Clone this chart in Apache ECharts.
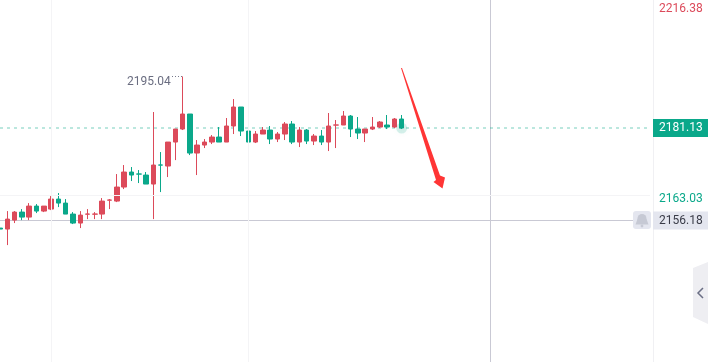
<!DOCTYPE html>
<html><head><meta charset="utf-8">
<style>html,body{margin:0;padding:0;background:#fff}#c{width:708px;height:362px}</style>
<script src="https://cdn.jsdelivr.net/npm/echarts@6/dist/echarts.min.js"></script>
</head><body><div id="c"></div>
<script>
const slots = 90;
const categories = Array.from({length: slots}, (_, i) => String(i));
const opens = [2154.15,2153.88,2156.30,2158.46,2157.11,2160.08,2158.73,2159.27,2161.97,2160.89,2157.92,2155.50,2157.90,2157.90,2157.92,2161.68,2161.43,2165.21,2169.26,2168.74,2168.45,2166.02,2171.17,2170.88,2177.35,2180.86,2184.91,2174.38,2176.54,2177.35,2178.70,2177.35,2181.67,2186.80,2180.32,2177.35,2179.51,2180.59,2178.16,2179.51,2182.21,2177.35,2180.59,2177.62,2178.97,2177.35,2181.92,2181.94,2184.37,2180.86,2179.78,2180.86,2181.40,2181.94,2181.40,2183.56];
const closes = [2153.88,2156.57,2158.46,2157.11,2160.08,2158.73,2160.08,2161.97,2160.89,2157.92,2155.50,2157.65,2157.94,2157.94,2161.43,2161.72,2165.21,2169.26,2168.45,2168.70,2166.02,2171.15,2171.13,2177.35,2180.86,2184.91,2174.38,2176.54,2177.35,2178.70,2177.35,2181.67,2186.80,2180.32,2177.35,2179.51,2180.59,2178.16,2179.51,2182.21,2177.35,2180.59,2177.62,2178.97,2177.35,2181.67,2181.96,2184.37,2180.86,2179.78,2180.86,2181.40,2182.75,2181.40,2183.56,2181.13];
const lows = [2151.99,2149.56,2155.50,2156.30,2156.30,2158.19,2158.46,2159.00,2159.81,2157.92,2155.23,2154.15,2156.57,2156.57,2156.57,2159.27,2161.16,2164.67,2166.83,2166.29,2166.02,2156.57,2163.86,2167.91,2172.48,2180.59,2173.84,2168.45,2175.73,2176.81,2177.35,2177.35,2179.51,2178.97,2176.81,2177.08,2179.51,2176.81,2177.35,2177.89,2176.81,2176.00,2176.81,2176.54,2176.54,2174.92,2175.73,2181.94,2178.70,2178.16,2177.35,2180.59,2181.13,2180.86,2181.13,2180.86];
const highs = [2157.92,2158.73,2158.73,2159.27,2160.89,2160.62,2160.08,2162.78,2163.59,2161.97,2158.46,2158.73,2159.27,2158.46,2162.24,2161.97,2168.72,2171.15,2170.61,2169.80,2169.26,2185.45,2174.65,2177.35,2180.86,2195.04,2184.91,2177.89,2178.16,2179.24,2181.40,2183.83,2188.95,2186.80,2180.32,2180.32,2181.40,2181.67,2180.05,2182.75,2183.02,2181.40,2180.86,2179.51,2180.59,2185.18,2183.29,2185.72,2184.64,2184.10,2180.86,2184.10,2183.02,2184.64,2183.83,2184.64];
const lastPrice = 2181.13, alertPrice = 2156.18, lowLevel = 2163.03;
const highLabel = '2216.38', peakLabel = '2195.04';
const yMin = 2118.03, yMax = 2215.66;
const gridCategories = [7, 34];

const RED = '#dc4a5a', GREEN = '#0aa88a', FONT = 'Roboto, "Liberation Sans", sans-serif';
const candles = opens.map((o, i) => [o, closes[i], lows[i], highs[i]]);
const chart = echarts.init(document.getElementById('c'), null, {renderer: 'canvas'});
const priceLabel = (text, fill, bg) => ({show: true, position: 'end', distance: 3, formatter: text, color: fill,
  backgroundColor: bg, fontFamily: FONT, fontSize: 12, width: 49, height: 18, lineHeight: 18, align: 'left', padding: [0, 0, 0, 6]});
chart.setOption({
  animation: false,
  backgroundColor: '#fff',
  grid: {left: 0, right: 58, top: 0, bottom: 0},
  xAxis: {type: 'category', data: categories, boundaryGap: false, show: true,
    axisLine: {show: false}, axisTick: {show: false}, axisLabel: {show: false}, splitLine: {show: false}},
  yAxis: {type: 'value', min: yMin, max: yMax, position: 'right',
    axisLine: {show: false}, axisTick: {show: false}, axisLabel: {show: false}, splitLine: {show: false}},
  series: [
    {type: 'line', data: [], silent: true, z: 1,
     markLine: {silent: true, symbol: 'none', animation: false, label: {show: false},
       lineStyle: {color: '#f4f4f6', width: 1, type: 'solid'},
       data: gridCategories.map(c => ({xAxis: c})).concat([{yAxis: lowLevel}])}},
    {type: 'candlestick', data: candles, barWidth: 5, z: 3,
     itemStyle: {color: RED, color0: GREEN, borderColor: RED, borderColor0: GREEN, borderWidth: 1},
     markLine: {silent: true, symbol: 'none', animation: false, z: 2,
       data: [
         {yAxis: lastPrice, lineStyle: {color: 'rgba(10,168,138,0.28)', width: 2, type: [3, 4]},
          label: priceLabel(lastPrice.toFixed(2), '#fff', GREEN)},
         {yAxis: alertPrice, lineStyle: {color: '#c9c9d4', width: 1, type: 'solid'},
          label: priceLabel(alertPrice.toFixed(2), '#3a3c48', '#e4e6ef')}
       ]}},
    {type: 'scatter', silent: true, z: 2, symbolSize: 11, data: [[55, lastPrice]],
     itemStyle: {color: 'rgba(10,168,138,0.2)', shadowBlur: 6, shadowColor: 'rgba(10,168,138,0.3)'}}
  ],
  graphic: [
    {type: 'line', silent: true, z: 1, shape: {x1: 490.5, y1: 0, x2: 490.5, y2: 362}, style: {stroke: '#c9c9d4', lineWidth: 1}},
    {type: 'line', silent: true, z: 1, shape: {x1: 653.5, y1: 0, x2: 653.5, y2: 362}, style: {stroke: '#f0f0f3', lineWidth: 1}},
    {type: 'text', silent: true, style: {text: highLabel, x: 659, y: 3, fill: '#dc4a5a', font: '12px ' + FONT}},
    {type: 'text', silent: true, style: {text: lowLevel.toFixed(2), x: 659, y: 193, fill: GREEN, font: '12px ' + FONT}},
    {type: 'text', silent: true, style: {text: peakLabel, x: 127, y: 76, fill: '#6a6d80', font: '12px ' + FONT}},
    {type: 'line', silent: true, z: 4, shape: {x1: 172, y1: 76.5, x2: 183, y2: 76.5}, style: {stroke: '#777a8c', lineWidth: 1, lineDash: [1, 2]}},
    {type: 'polygon', silent: true, z: 5, shape: {points: [[401, 68], [402, 68], [440, 175.5], [445, 177.5], [442.5, 188.5], [433.5, 182], [436, 180]]}, style: {fill: '#ff3535'}},
    {type: 'rect', silent: true, z: 5, shape: {x: 633, y: 211, width: 18, height: 18, r: 3}, style: {fill: '#e4e6ef'}},
    {type: 'circle', silent: true, z: 6, shape: {cx: 642, cy: 218.5, r: 4.5}, style: {fill: '#c6c9d4'}},
    {type: 'polygon', silent: true, z: 6, shape: {points: [[637.5, 219], [646.5, 219], [648.5, 224.5], [635.5, 224.5]]}, style: {fill: '#c6c9d4'}},
    {type: 'circle', silent: true, z: 6, shape: {cx: 642, cy: 226, r: 1.4}, style: {fill: '#c6c9d4'}},
    {type: 'polygon', silent: true, z: 5, shape: {points: [[693, 268], [708, 262], [708, 324], [693, 317]]}, style: {fill: '#eeeef2'}},
    {type: 'polyline', silent: true, z: 6, shape: {points: [[703, 288], [698, 293], [703, 298]]}, style: {stroke: '#6b6f85', lineWidth: 1.5, fill: null}}
  ]
});
</script>
</body></html>
